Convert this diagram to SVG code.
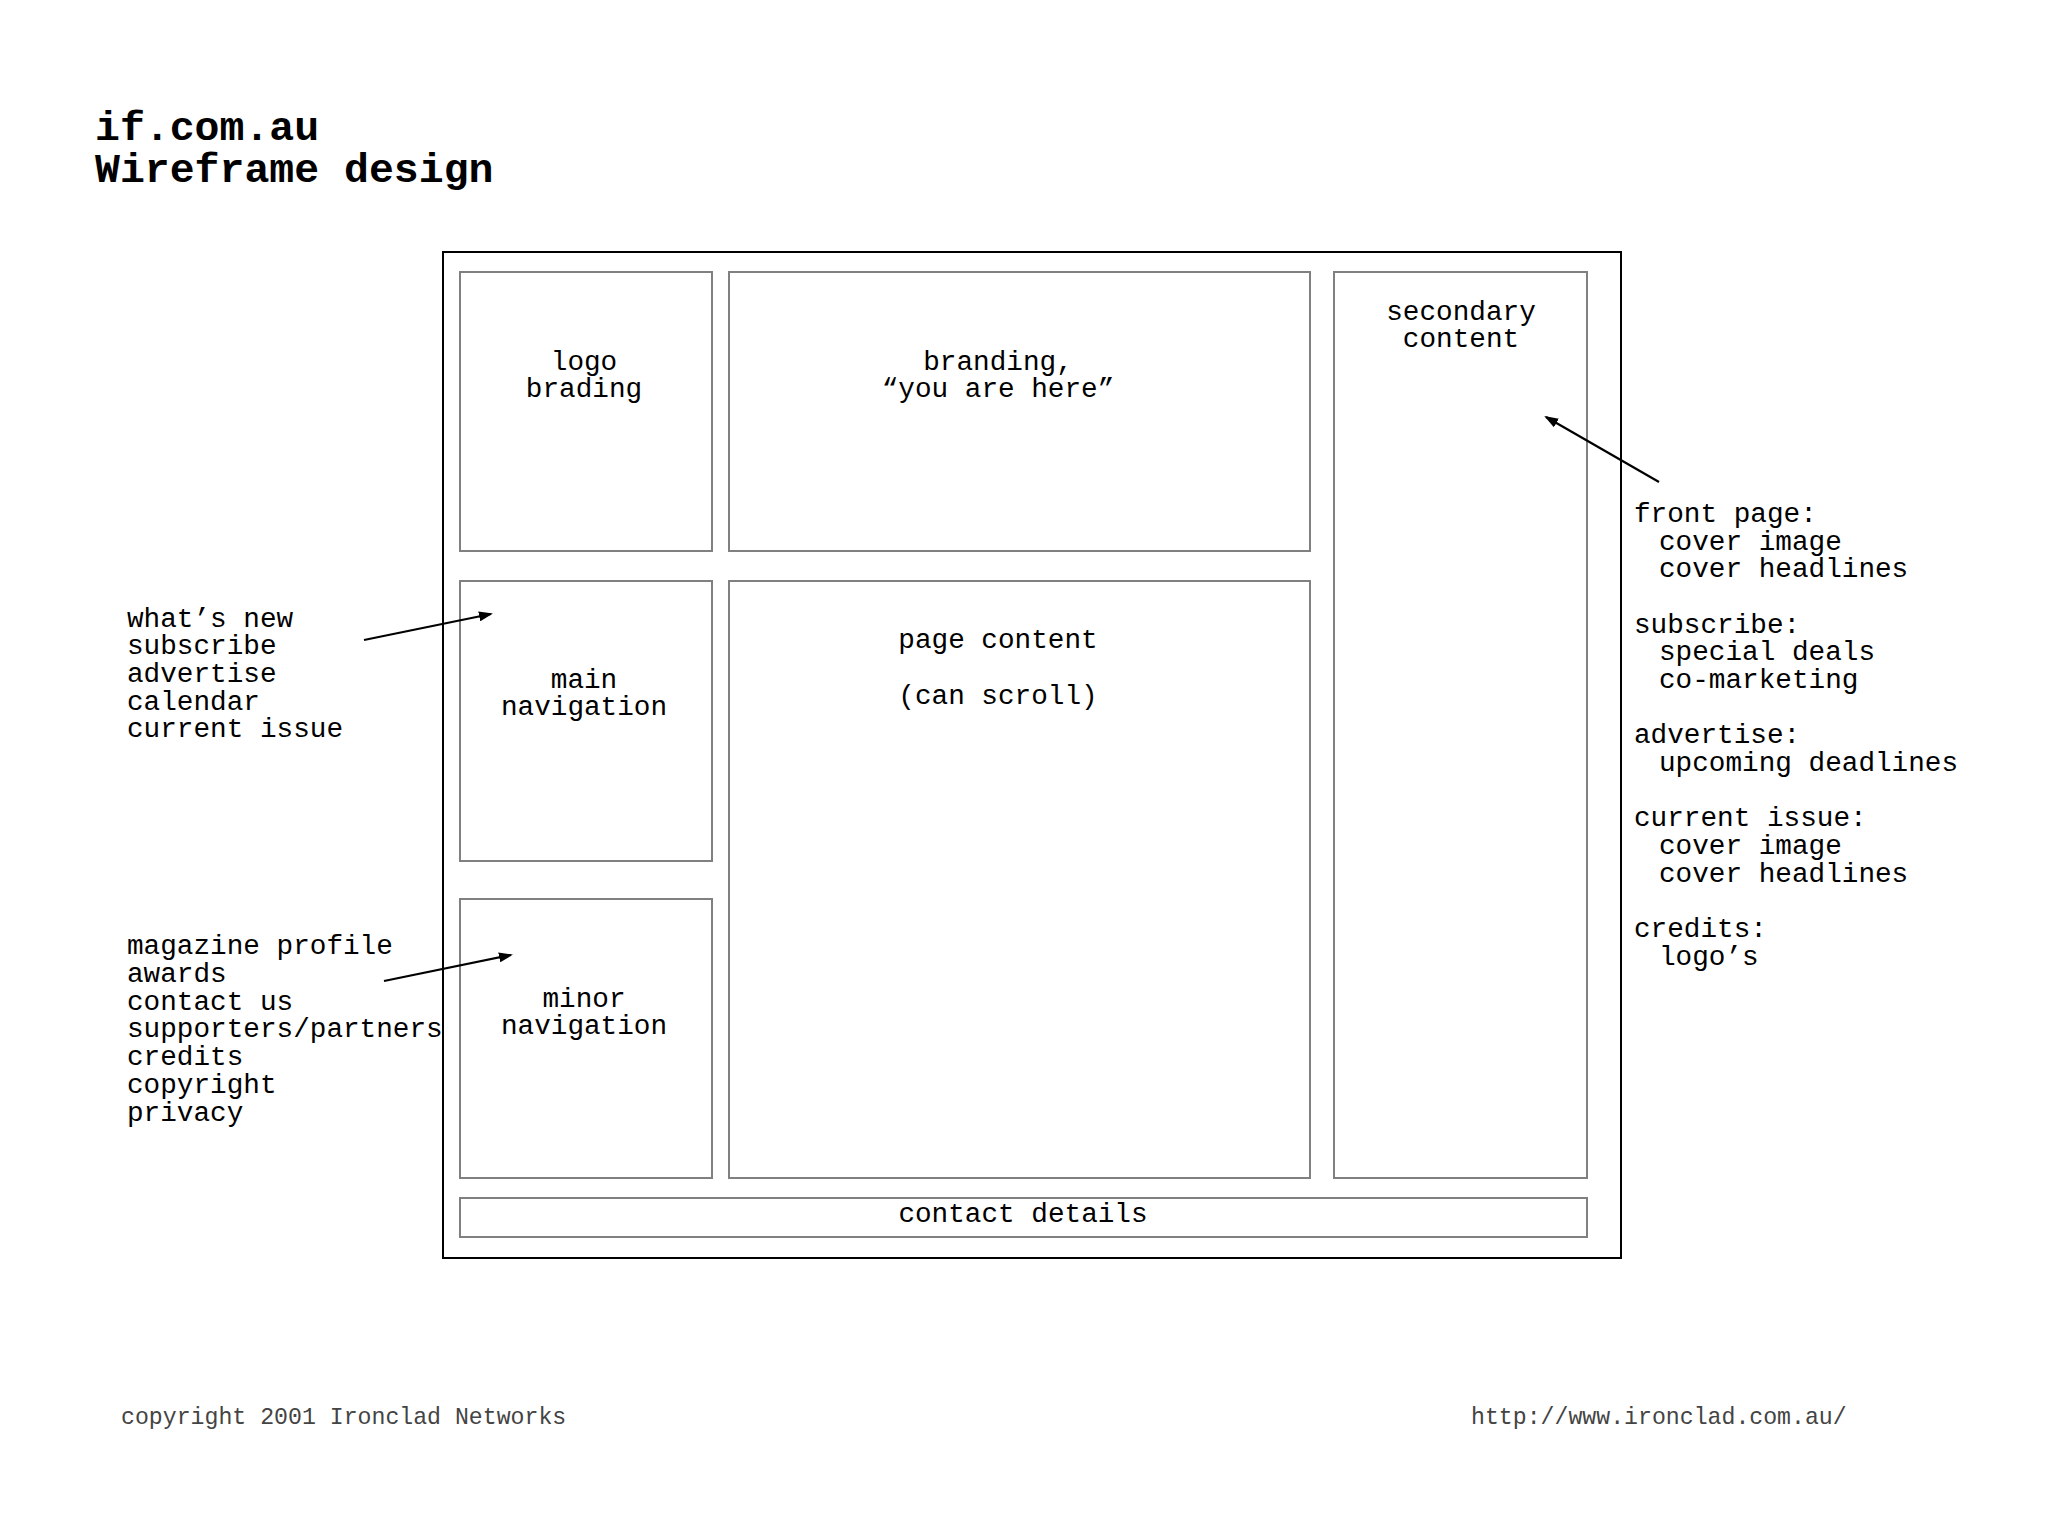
<svg xmlns="http://www.w3.org/2000/svg" width="2048" height="1536" viewBox="0 0 2048 1536">
<style>
text{font-family:"Liberation Mono","DejaVu Sans Mono",monospace;fill:#000}
.t{font-size:41.5px;font-weight:bold}
.b{font-size:27.7px}
.c{text-anchor:middle}
.f{font-size:23.2px;fill:#444}
.box{fill:#fff;stroke:#808080;stroke-width:2}
.outer{fill:#fff;stroke:#000;stroke-width:2}
.con{stroke:#000;stroke-width:2.2;fill:none;marker-end:url(#ah)}
</style>
<defs>
<marker id="ah" markerWidth="14" markerHeight="10" refX="12" refY="5" orient="auto" markerUnits="userSpaceOnUse">
<path d="M0,0 L14,5 L0,10 Z" fill="#000"/>
</marker>
</defs>
<rect width="2048" height="1536" fill="#fff"/>
<g id="title">
<text class="t"><tspan x="95" y="140">if.com.au</tspan><tspan x="95" y="182">Wireframe design</tspan></text>
</g>
<g id="page">
<rect class="outer" x="443" y="252" width="1178" height="1006"/>
</g>
<g id="logo">
<rect class="box" x="460" y="272" width="252" height="279"/>
<text class="b c" x="584" y="370">logo</text>
<text class="b c" x="584" y="397">brading</text>
</g>
<g id="branding">
<rect class="box" x="729" y="272" width="581" height="279"/>
<text class="b c" x="998" y="370">branding,</text>
<text class="b c" x="998" y="397">“you are here”</text>
</g>
<g id="secondary">
<rect class="box" x="1334" y="272" width="253" height="906"/>
<text class="b c" x="1461" y="320">secondary</text>
<text class="b c" x="1461" y="347">content</text>
</g>
<g id="mainnav">
<rect class="box" x="460" y="581" width="252" height="280"/>
<text class="b c" x="584" y="688">main</text>
<text class="b c" x="584" y="715">navigation</text>
</g>
<g id="pagecontent">
<rect class="box" x="729" y="581" width="581" height="597"/>
<text class="b c" x="998" y="648">page content</text>
<text class="b c" x="998" y="704">(can scroll)</text>
</g>
<g id="minornav">
<rect class="box" x="460" y="899" width="252" height="279"/>
<text class="b c" x="584" y="1007">minor</text>
<text class="b c" x="584" y="1034">navigation</text>
</g>
<g id="contact">
<rect class="box" x="460" y="1198" width="1127" height="39"/>
<text class="b c" x="1023" y="1222">contact details</text>
</g>
<g id="mainnav-notes">
<text class="b" x="127" y="627">what’s new</text>
<text class="b" x="127" y="654">subscribe</text>
<text class="b" x="127" y="682">advertise</text>
<text class="b" x="127" y="710">calendar</text>
<text class="b" x="127" y="737">current issue</text>
</g>
<g id="minornav-notes">
<text class="b" x="127" y="954">magazine profile</text>
<text class="b" x="127" y="982">awards</text>
<text class="b" x="127" y="1010">contact us</text>
<text class="b" x="127" y="1037">supporters/partners</text>
<text class="b" x="127" y="1065">credits</text>
<text class="b" x="127" y="1093">copyright</text>
<text class="b" x="127" y="1121">privacy</text>
</g>
<g id="secondary-notes">
<text class="b" x="1634" y="522">front page:</text>
<text class="b" x="1659" y="550">cover image</text>
<text class="b" x="1659" y="577">cover headlines</text>
<text class="b" x="1634" y="633">subscribe:</text>
<text class="b" x="1659" y="660">special deals</text>
<text class="b" x="1659" y="688">co-marketing</text>
<text class="b" x="1634" y="743">advertise:</text>
<text class="b" x="1659" y="771">upcoming deadlines</text>
<text class="b" x="1634" y="826">current issue:</text>
<text class="b" x="1659" y="854">cover image</text>
<text class="b" x="1659" y="882">cover headlines</text>
<text class="b" x="1634" y="937">credits:</text>
<text class="b" x="1659" y="965">logo’s</text>
</g>
<g id="connectors">
<line class="con" x1="364" y1="640" x2="491" y2="614"/>
<line class="con" x1="384" y1="981" x2="511" y2="955"/>
<line class="con" x1="1659" y1="482" x2="1546" y2="417"/>
</g>
<g id="footer">
<text class="f" x="121" y="1424">copyright 2001 Ironclad Networks</text>
<text class="f" x="1471" y="1424">http://www.ironclad.com.au/</text>
</g>
</svg>
